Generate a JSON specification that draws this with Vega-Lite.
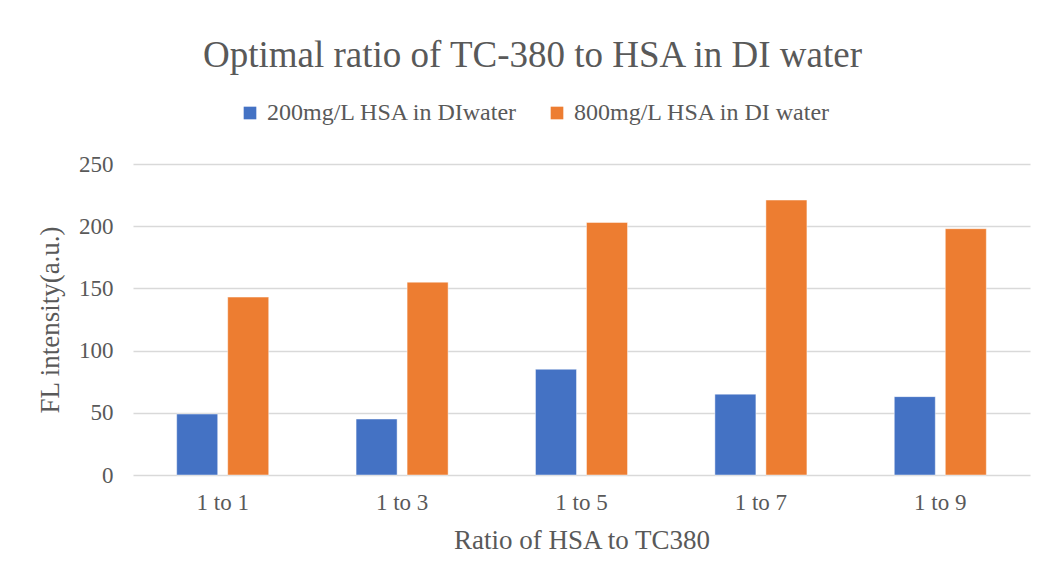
{
  "$schema": "https://vega.github.io/schema/vega-lite/v6.json",
  "width": 897,
  "height": 311,
  "autosize": {"type": "none"},
  "padding": {"left": 133, "top": 164, "right": 18, "bottom": 106},
  "background": "#ffffff",
  "title": {
    "text": "Optimal ratio of TC-380 to HSA in DI water",
    "anchor": "middle",
    "frame": "group",
    "dx": -49,
    "offset": 26,
    "font": "Liberation Serif, serif",
    "fontSize": 37,
    "fontWeight": "normal",
    "color": "#595959"
  },
  "data": {
    "values": [
      {"ratio": "1 to 1", "series": "200mg/L HSA in DIwater", "fl": 49},
      {"ratio": "1 to 1", "series": "800mg/L HSA in DI water", "fl": 143},
      {"ratio": "1 to 3", "series": "200mg/L HSA in DIwater", "fl": 45},
      {"ratio": "1 to 3", "series": "800mg/L HSA in DI water", "fl": 155},
      {"ratio": "1 to 5", "series": "200mg/L HSA in DIwater", "fl": 85},
      {"ratio": "1 to 5", "series": "800mg/L HSA in DI water", "fl": 203},
      {"ratio": "1 to 7", "series": "200mg/L HSA in DIwater", "fl": 65},
      {"ratio": "1 to 7", "series": "800mg/L HSA in DI water", "fl": 221},
      {"ratio": "1 to 9", "series": "200mg/L HSA in DIwater", "fl": 63},
      {"ratio": "1 to 9", "series": "800mg/L HSA in DI water", "fl": 198}
    ]
  },
  "mark": {"type": "bar", "stroke": "#ffffff", "strokeWidth": 0.75, "strokeOpacity": 0.6},
  "encoding": {
    "x": {
      "field": "ratio",
      "type": "nominal",
      "sort": null,
      "title": "Ratio of HSA to TC380",
      "scale": {"paddingInner": 0.487, "paddingOuter": 0.2435},
      "axis": {
        "labelAngle": 0,
        "domain": false,
        "ticks": false,
        "labelPadding": 16,
        "titlePadding": 13,
        "labelFontSize": 23,
        "titleFontSize": 27
      }
    },
    "xOffset": {
      "field": "series",
      "type": "nominal",
      "scale": {"paddingInner": 0.196, "paddingOuter": 0}
    },
    "y": {
      "field": "fl",
      "type": "quantitative",
      "title": "FL intensity(a.u.)",
      "scale": {"domain": [0, 250], "nice": false},
      "axis": {
        "values": [0, 50, 100, 150, 200, 250],
        "domain": false,
        "ticks": false,
        "labelPadding": 20,
        "titlePadding": 14,
        "labelFontSize": 23,
        "titleFontSize": 27,
        "gridColor": "#d9d9d9",
        "gridWidth": 1.5
      }
    },
    "color": {
      "field": "series",
      "type": "nominal",
      "scale": {
        "domain": ["200mg/L HSA in DIwater", "800mg/L HSA in DI water"],
        "range": ["#4472C4", "#ED7D31"]
      },
      "legend": {
        "title": null,
        "orient": "none",
        "direction": "horizontal",
        "legendX": 105,
        "legendY": -63,
        "symbolType": "square",
        "symbolSize": 160,
        "symbolStrokeWidth": 0,
        "labelFontSize": 24,
        "labelOffset": 5,
        "columnPadding": 26,
        "labelLimit": 400
      }
    }
  },
  "config": {
    "font": "Liberation Serif, serif",
    "view": {"stroke": null},
    "axis": {
      "labelColor": "#595959",
      "titleColor": "#595959",
      "titleFontWeight": "normal",
      "labelFont": "Liberation Serif, serif",
      "titleFont": "Liberation Serif, serif"
    },
    "legend": {
      "labelColor": "#595959",
      "labelFont": "Liberation Serif, serif"
    }
  }
}
